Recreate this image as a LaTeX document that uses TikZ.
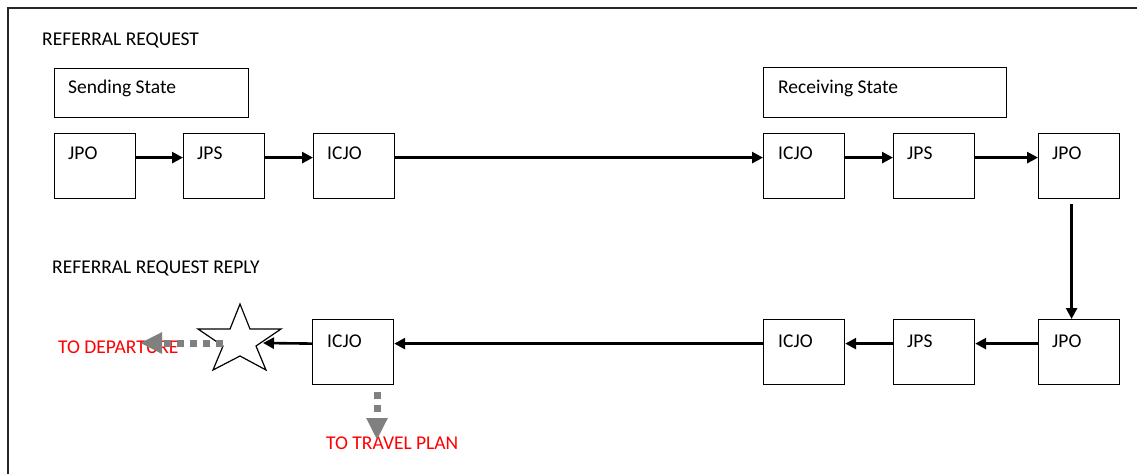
\documentclass[tikz,border=0pt]{standalone}
\usepackage{fontspec}
\setmainfont{Carlito}
\usetikzlibrary{arrows.meta}
\definecolor{dgrey}{RGB}{128,128,128}
\definecolor{tred}{RGB}{255,0,0}
\tikzset{
  box/.style={draw, line width=1.2pt, inner sep=0pt, anchor=north west, minimum width=81pt, minimum height=65pt},
  statebox/.style={draw, line width=1.2pt, inner sep=0pt, anchor=north west},
  txt/.style={anchor=west, inner sep=0pt, font=\fontsize{19.5pt}{23pt}\selectfont},
  redtxt/.style={txt, text=tred},
  flow/.style={line width=2.6pt, -{Triangle[length=11pt,width=11pt]}},
  grayflow/.style={draw=dgrey, line width=7pt, dash pattern=on 7pt off 6pt, -{Triangle[length=22pt,width=20pt,fill=dgrey]}, color=dgrey}
}
\begin{document}
\begin{tikzpicture}[x=1pt,y=-1pt]
\useasboundingbox (0,0) rectangle (1137,474);
% frame
\draw[line width=1.8pt, black!85] (8,474) -- (8,8) -- (1137,8);
% titles
\node[txt] (t1) at (42,40) {REFERRAL REQUEST};
\node[txt] (t2) at (52,268) {REFERRAL REQUEST REPLY};
% state boxes
\node[statebox, minimum width=194pt, minimum height=49pt] (send) at (54,68) {};
\node[txt] (sendt) at ([shift={(14,20)}]send.north west) {Sending State};
\node[statebox, minimum width=243pt, minimum height=50pt] (recv) at (763,67) {};
\node[txt] (recvt) at ([shift={(15,21)}]recv.north west) {Receiving State};
% top row
\node[box] (a1) at (54,133) {};
\node[box] (a2) at (183,133) {};
\node[box] (a3) at (313,133) {};
\node[box] (a4) at (763,133) {};
\node[box] (a5) at (893,133) {};
\node[box] (a6) at (1038,133) {};
\node[txt] (a1t) at ([shift={(14,20)}]a1.north west) {JPO};
\node[txt] (a2t) at ([shift={(14,20)}]a2.north west) {JPS};
\node[txt] (a3t) at ([shift={(14,20)}]a3.north west) {ICJO};
\node[txt] (a4t) at ([shift={(15,20)}]a4.north west) {ICJO};
\node[txt] (a5t) at ([shift={(14,20)}]a5.north west) {JPS};
\node[txt] (a6t) at ([shift={(14,20)}]a6.north west) {JPO};
% bottom row
\node[box] (b3) at (312,319) {};
\node[box] (b4) at (763,319) {};
\node[box] (b5) at (893,319) {};
\node[box] (b6) at (1038,319) {};
\node[txt] (b3t) at ([shift={(15,22)}]b3.north west) {ICJO};
\node[txt] (b4t) at ([shift={(15,22)}]b4.north west) {ICJO};
\node[txt] (b5t) at ([shift={(14,22)}]b5.north west) {JPS};
\node[txt] (b6t) at ([shift={(14,22)}]b6.north west) {JPO};
% top arrows
\draw[flow] ([yshift=8.5pt]a1.east) -- ([yshift=8.5pt]a2.west);
\draw[flow] ([yshift=8.5pt]a2.east) -- ([yshift=8.5pt]a3.west);
\draw[flow] ([yshift=8.5pt]a3.east) -- ([yshift=8.5pt]a4.west);
\draw[flow] ([yshift=8.5pt]a4.east) -- ([yshift=8.5pt]a5.west);
\draw[flow] ([yshift=8.5pt]a5.east) -- ([yshift=8.5pt]a6.west);
% down arrow
\draw[flow] ([xshift=-7.5pt,yshift=-5pt]a6.south) -- ([xshift=-7.5pt]b6.north);
% bottom arrows
\draw[flow] ([yshift=8.5pt]b6.west) -- ([yshift=8.5pt]b5.east);
\draw[flow] ([yshift=8.5pt]b5.west) -- ([yshift=8.5pt]b4.east);
\draw[flow] ([yshift=8.5pt]b4.west) -- ([yshift=8.5pt]b3.east);
% star
\draw[line width=1.2pt, fill=white, line join=miter]
  (240,304) -- (250,329) -- (281,329) -- (256,346) -- (266,370) -- (240,356)
  -- (213,370) -- (223,346) -- (198,329) -- (230,329) -- cycle;
\coordinate (starE) at (263,343);
\coordinate (starW) at (223,343);
\draw[flow] ([yshift=8.5pt]b3.west) -- (starE);
% red labels
\node[redtxt] (dep) at (58,347) {TO DEPARTURE};
\node[redtxt] (plan) at (326,443) {TO TRAVEL PLAN};
% grey dashed arrows
\coordinate (depTip) at (140,343);
\coordinate (planTop) at (377,392);
\coordinate (planTip) at (377,440);
\draw[grayflow] (starW) -- (depTip);
\draw[grayflow] (planTop) -- (planTip);
\end{tikzpicture}
\end{document}
